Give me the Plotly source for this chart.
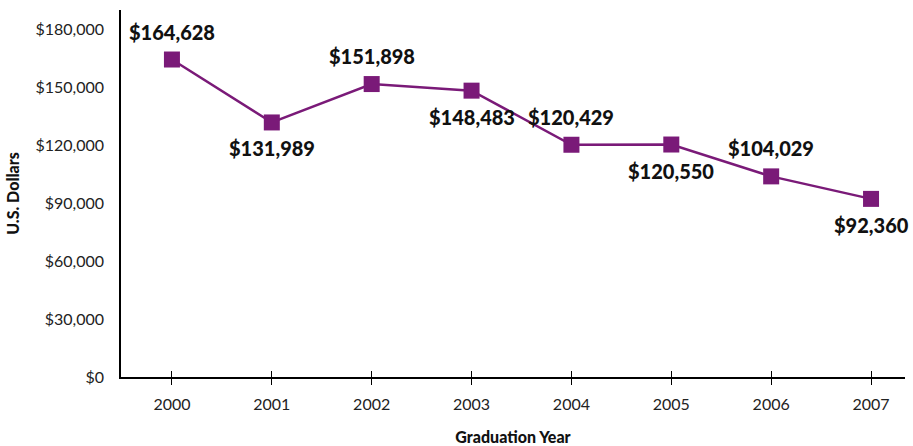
import plotly.graph_objects as go

# Median debt by graduation year
years = [2000, 2001, 2002, 2003, 2004, 2005, 2006, 2007]
values = [164628, 131989, 151898, 148483, 120429, 120550, 104029, 92360]
label_above = [True, False, True, False, True, False, True, False]
y_ticks = [0, 30000, 60000, 90000, 120000, 150000, 180000]
y_tick_text = ["$0", "$30,000", "$60,000", "$90,000", "$120,000", "$150,000", "$180,000"]

purple = "#7a1a78"
font_family = "Lato, 'DejaVu Sans', sans-serif"

fig = go.Figure()
fig.add_trace(go.Scatter(
    x=years, y=values,
    mode="lines+markers",
    line=dict(color=purple, width=2.5),
    marker=dict(symbol="square", size=16, color=purple),
    showlegend=False,
))

# value labels, alternating above and below the markers
for yr, v, above in zip(years, values, label_above):
    fig.add_annotation(
        x=yr, y=v, text=f"${v:,}", showarrow=False,
        yshift=28 if above else -26,
        font=dict(family=font_family, size=20, color="#111111", weight=900),
    )

# second x-axis carries the inward half of the crossing tick marks
fig.add_trace(go.Scatter(x=[years[0]], y=[values[0]], xaxis="x2", mode="markers",
                         marker=dict(opacity=0), showlegend=False, hoverinfo="skip"))

x_range = [1999.49, 2007.34]
fig.update_layout(
    width=913, height=446,
    margin=dict(l=121, r=8, t=10, b=69),
    paper_bgcolor="white", plot_bgcolor="white",
    font=dict(family=font_family, size=16, color="#222222"),
    xaxis=dict(
        range=x_range, tickmode="array", tickvals=years,
        ticktext=[str(y) for y in years],
        showgrid=False, zeroline=False, automargin=False,
        showline=True, linecolor="black", linewidth=1.5,
        ticks="outside", ticklen=6, tickcolor="black", tickwidth=1.2,
        ticklabelstandoff=6,
        tickfont=dict(size=16),
        title=dict(text="Graduation Year",
                   font=dict(size=16, color="#111111", weight=900), standoff=24),
    ),
    xaxis2=dict(
        range=x_range, overlaying="x", side="bottom", tickmode="array", tickvals=years,
        showticklabels=False, showgrid=False, zeroline=False, showline=False,
        automargin=False,
        ticks="inside", ticklen=6, tickcolor="black", tickwidth=1.2,
    ),
    yaxis=dict(
        range=[0, 190300], tickmode="array", tickvals=y_ticks, ticktext=y_tick_text,
        showgrid=False, zeroline=False, automargin=False,
        showline=True, linecolor="black", linewidth=1.5,
        ticks="outside", ticklen=12, tickcolor="white",
        tickfont=dict(size=16),
        title=dict(text="U.S. Dollars",
                   font=dict(size=16, color="#111111", weight=900), standoff=12),
    ),
)

fig.write_html("out.html")
